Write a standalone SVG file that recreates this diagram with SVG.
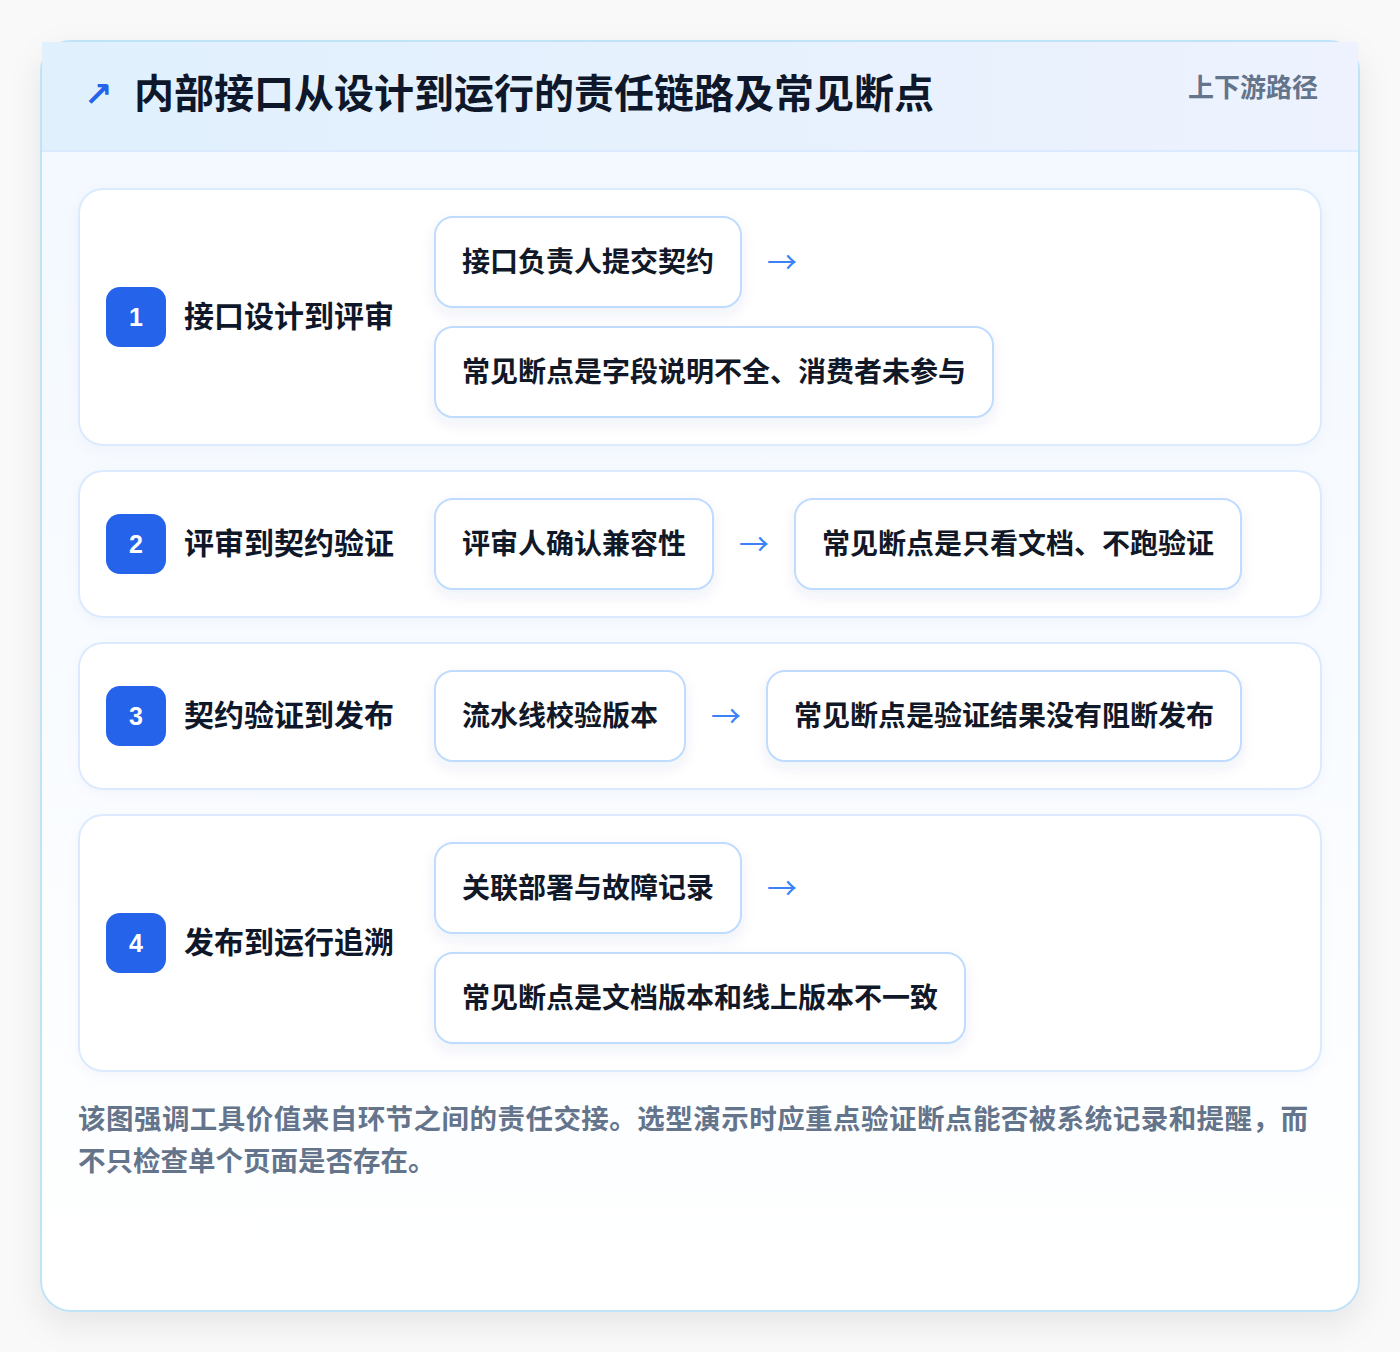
<svg xmlns="http://www.w3.org/2000/svg" width="1400" height="1352" viewBox="0 0 1400 1352">
<defs>
<linearGradient id="hdr" x1="0" y1="0" x2="1" y2="0">
<stop offset="0" stop-color="#e0f0fd"/>
<stop offset="1" stop-color="#edf2fe"/>
</linearGradient>
<linearGradient id="body" x1="0" y1="0" x2="0" y2="1">
<stop offset="0" stop-color="#f2f8ff"/>
<stop offset="1" stop-color="#ffffff"/>
</linearGradient>
<filter id="outerShadow" x="-10%" y="-10%" width="120%" height="120%">
<feDropShadow dx="0" dy="12" stdDeviation="16" flood-color="#0f172a" flood-opacity="0.08"/>
</filter>
<filter id="boxShadow" x="-10%" y="-20%" width="120%" height="150%">
<feDropShadow dx="0" dy="6" stdDeviation="7" flood-color="#1e3a8a" flood-opacity="0.07"/>
</filter>
<filter id="cardShadow" x="-5%" y="-10%" width="110%" height="130%">
<feDropShadow dx="0" dy="4" stdDeviation="6" flood-color="#1e3a8a" flood-opacity="0.03"/>
</filter>
</defs>
<style>
.cjk{font-family:"Noto Sans CJK SC","Noto Sans",sans-serif;}
.title{font-size:40px;font-weight:700;fill:#0f172a;}
.tag{font-size:26px;font-weight:700;fill:#64748b;}
.card{fill:#ffffff;stroke:#dbeafe;stroke-width:2;}
.badge{fill:#2563eb;}
.num{font-family:"Liberation Sans",Arial,sans-serif;font-size:25px;font-weight:700;fill:#ffffff;}
.label{font-size:30px;font-weight:700;fill:#0f172a;}
.box{fill:#ffffff;stroke:#bfdbfe;stroke-width:2;}
.btxt{font-size:28px;font-weight:700;fill:#111827;}
.arrow{font-family:"Noto Sans CJK SC",sans-serif;font-size:30px;fill:#3b82f6;}
.foot{font-size:27.5px;font-weight:700;fill:#64748b;}
</style>
<rect x="0" y="0" width="1400" height="1352" fill="#f9f9fa"/>
<g id="frame">
<rect x="41" y="41" width="1318" height="1270" rx="30" fill="url(#body)" stroke="#bfe3f7" stroke-width="2" filter="url(#outerShadow)"/>
<rect x="42" y="42" width="1316" height="109" fill="url(#hdr)"/>
<line x1="42" y1="151" x2="1358" y2="151" stroke="#dbeafe" stroke-width="2"/>
<text x="84" y="106" font-family="DejaVu Sans,sans-serif" font-size="34" font-weight="700" fill="#2563eb">↗</text>
<text class="cjk title" x="134" y="108">内部接口从设计到运行的责任链路及常见断点</text>
<text class="cjk tag" x="1318" y="97" text-anchor="end">上下游路径</text>
</g>
<g id="step1">
<rect class="card" x="79" y="189" width="1242" height="256" rx="24" filter="url(#cardShadow)"/>
<rect class="badge" x="106" y="287" width="60" height="60" rx="14"/>
<text class="num" x="136" y="326" text-anchor="middle">1</text>
<text class="cjk label" x="184" y="327">接口设计到评审</text>
<g id="s1a"><rect class="box" x="435" y="217" width="306" height="90" rx="18" filter="url(#boxShadow)"/>
<text class="cjk btxt" x="462" y="272">接口负责人提交契约</text></g>
<g id="s1b"><rect class="box" x="435" y="327" width="558" height="90" rx="18" filter="url(#boxShadow)"/>
<text class="cjk btxt" x="462" y="382">常见断点是字段说明不全、消费者未参与</text></g>
</g>
<g id="step2">
<rect class="card" x="79" y="471" width="1242" height="146" rx="24" filter="url(#cardShadow)"/>
<rect class="badge" x="106" y="514" width="60" height="60" rx="14"/>
<text class="num" x="136" y="553" text-anchor="middle">2</text>
<text class="cjk label" x="184" y="554">评审到契约验证</text>
<g id="s2a"><rect class="box" x="435" y="499" width="278" height="90" rx="18" filter="url(#boxShadow)"/>
<text class="cjk btxt" x="462" y="554">评审人确认兼容性</text></g>
<g id="s2b"><rect class="box" x="795" y="499" width="446" height="90" rx="18" filter="url(#boxShadow)"/>
<text class="cjk btxt" x="822" y="554">常见断点是只看文档、不跑验证</text></g>
</g>
<g id="step3">
<rect class="card" x="79" y="643" width="1242" height="146" rx="24" filter="url(#cardShadow)"/>
<rect class="badge" x="106" y="686" width="60" height="60" rx="14"/>
<text class="num" x="136" y="725" text-anchor="middle">3</text>
<text class="cjk label" x="184" y="726">契约验证到发布</text>
<g id="s3a"><rect class="box" x="435" y="671" width="250" height="90" rx="18" filter="url(#boxShadow)"/>
<text class="cjk btxt" x="462" y="726">流水线校验版本</text></g>
<g id="s3b"><rect class="box" x="767" y="671" width="474" height="90" rx="18" filter="url(#boxShadow)"/>
<text class="cjk btxt" x="794" y="726">常见断点是验证结果没有阻断发布</text></g>
</g>
<g id="step4">
<rect class="card" x="79" y="815" width="1242" height="256" rx="24" filter="url(#cardShadow)"/>
<rect class="badge" x="106" y="913" width="60" height="60" rx="14"/>
<text class="num" x="136" y="952" text-anchor="middle">4</text>
<text class="cjk label" x="184" y="953">发布到运行追溯</text>
<g id="s4a"><rect class="box" x="435" y="843" width="306" height="90" rx="18" filter="url(#boxShadow)"/>
<text class="cjk btxt" x="462" y="898">关联部署与故障记录</text></g>
<g id="s4b"><rect class="box" x="435" y="953" width="530" height="90" rx="18" filter="url(#boxShadow)"/>
<text class="cjk btxt" x="462" y="1008">常见断点是文档版本和线上版本不一致</text></g>
</g>
<g id="connectors">
<text class="arrow" x="767" y="273">→</text>
<text class="arrow" x="739" y="555">→</text>
<text class="arrow" x="711" y="727">→</text>
<text class="arrow" x="767" y="899">→</text>
</g>
<g id="footer">
<text class="cjk foot" x="78" y="1129" textLength="1230" lengthAdjust="spacing">该图强调工具价值来自环节之间的责任交接。选型演示时应重点验证断点能否被系统记录和提醒，而</text>
<text class="cjk foot" x="78" y="1171">不只检查单个页面是否存在。</text>
</g>
</svg>
